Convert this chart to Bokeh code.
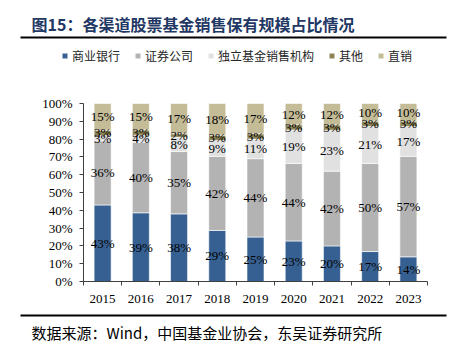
from bokeh.plotting import figure
from bokeh.models import (FixedTicker, Label, Legend, LegendItem, BoxAnnotation,
                          NumeralTickFormatter, ColumnDataSource, Range1d)
from bokeh.embed import file_html
from bokeh.resources import INLINE
from bokeh.core.properties import value

# ---------------- data ----------------
years = ["2015", "2016", "2017", "2018", "2019", "2020", "2021", "2022", "2023"]
bank = [43, 39, 38, 29, 25, 23, 20, 17, 14]           # 商业银行
securities = [36, 40, 35, 42, 44, 44, 42, 50, 57]     # 证券公司
independent = [3, 4, 8, 9, 11, 19, 23, 21, 17]        # 独立基金销售机构
other = [3, 3, 2, 3, 3, 3, 3, 3, 3]                   # 其他
direct = [15, 15, 17, 18, 17, 12, 12, 10, 10]         # 直销
series_names = ["商业银行", "证券公司", "独立基金销售机构", "其他", "直销"]

title_text = "图15：各渠道股票基金销售保有规模占比情况"
source_text = "数据来源：Wind，中国基金业协会，东吴证券研究所"

# ---------------- styles / layout ----------------
colors = ["#376092", "#B3B3B3", "#E1E1E1", "#8B8356", "#C4BC96"]
CJK = "Noto Sans CJK SC"
SERIF = "Liberation Serif"
AXIS_COLOR = "#404040"

W, H = 453, 347
# plot-area pixel box inside the canvas (from top-left)
PL, PR, PT, PB = 83, 427, 103, 281
n = len(years)
xs = (PR - PL) / n          # px per category
ys = (PB - PT) / 1.0        # px per unit (100%)
x_range = Range1d(-PL / xs, n + (W - PR) / xs)
y_range = Range1d(-(H - PB) / ys, 1 + PT / ys)

p = figure(width=W, height=H, x_range=x_range, y_range=y_range,
           output_backend="svg", toolbar_location=None,
           min_border=0)
p.outline_line_color = None
p.xgrid.visible = False
p.ygrid.visible = False
p.background_fill_color = "white"
p.border_fill_color = "white"

series = [bank, securities, independent, other, direct]
totals = [sum(vals) for vals in zip(*series)]
centers = [i + 0.5 for i in range(n)]

bottoms = [0.0] * n
renderers = []
label_sources = []
for name, vals, col in zip(series_names, series, colors):
    fr = [v / t for v, t in zip(vals, totals)]
    tops = [b + f for b, f in zip(bottoms, fr)]
    src = ColumnDataSource(dict(x=centers, bottom=bottoms, top=tops,
                                mid=[(b + t) / 2 for b, t in zip(bottoms, tops)],
                                lbl=[f"{v}%" for v in vals]))
    r = p.vbar(x="x", bottom="bottom", top="top", width=0.445, source=src,
               fill_color=col, line_color="white", line_width=0.6)
    renderers.append((name, r))
    label_sources.append(src)
    bottoms = tops

for src in label_sources:
    p.text(x="x", y="mid", text="lbl", source=src, text_align="center",
           text_baseline="middle", text_font=value(SERIF),
           text_font_size="13px", text_color="black")

# axes (kept in their side panels, drawn at the plot-area edges)
p.xaxis.fixed_location = 0
p.xaxis.bounds = (0, n)
p.xaxis.ticker = FixedTicker(ticks=centers, minor_ticks=list(range(n + 1)))
p.xaxis.major_label_overrides = {c: y for c, y in zip(centers, years)}
p.xaxis.major_tick_line_color = None
p.xaxis.major_tick_out = 0
p.xaxis.major_tick_in = 0
p.xaxis.minor_tick_out = 4
p.xaxis.minor_tick_in = 0
p.xaxis.minor_tick_line_color = AXIS_COLOR
p.xaxis.axis_line_color = AXIS_COLOR
p.xaxis.major_label_standoff = 9
p.xaxis.major_label_text_font = SERIF
p.xaxis.major_label_text_font_size = "13px"
p.xaxis.major_label_text_color = "black"

p.yaxis.fixed_location = 0
p.yaxis.bounds = (0, 1)
p.yaxis.ticker = FixedTicker(ticks=[i / 10 for i in range(11)])
p.yaxis.formatter = NumeralTickFormatter(format="0%")
p.yaxis.major_tick_out = 4
p.yaxis.major_tick_in = 0
p.yaxis.minor_tick_line_color = None
p.yaxis.major_tick_line_color = AXIS_COLOR
p.yaxis.axis_line_color = AXIS_COLOR
p.yaxis.major_label_standoff = 7
p.yaxis.major_label_text_font = SERIF
p.yaxis.major_label_text_font_size = "13px"
p.yaxis.major_label_text_color = "black"

# legend
legend = Legend(items=[LegendItem(label=nm, renderers=[r]) for nm, r in renderers],
                orientation="horizontal", location=(61, H - 64),
                glyph_width=7, glyph_height=7, label_standoff=4, spacing=14,
                padding=0, margin=0, border_line_color=None,
                background_fill_alpha=0, label_text_font=CJK,
                label_text_font_size="12px", label_height=12,
                label_text_color="#262626")
p.add_layout(legend, "center")

# title, rules, source (screen units)
p.add_layout(Label(x=31, y=H - 23, x_units="screen", y_units="screen",
                   text=title_text, text_font=CJK, text_font_size="16px",
                   text_font_style="bold", text_color="#1F3864",
                   text_baseline="middle"))
p.add_layout(BoxAnnotation(left=20, right=446, top=H - 36, bottom=H - 38,
                           left_units="screen", right_units="screen",
                           top_units="screen", bottom_units="screen",
                           fill_color="black", fill_alpha=1, line_color=None))
p.add_layout(BoxAnnotation(left=20, right=446, top=H - 314, bottom=H - 316,
                           left_units="screen", right_units="screen",
                           top_units="screen", bottom_units="screen",
                           fill_color="black", fill_alpha=1, line_color=None))
p.add_layout(Label(x=31, y=H - 332, x_units="screen", y_units="screen",
                   text=source_text, text_font=CJK, text_font_size="15px",
                   text_color="black", text_baseline="middle"))

open("out.html", "w").write(file_html(p, INLINE))
